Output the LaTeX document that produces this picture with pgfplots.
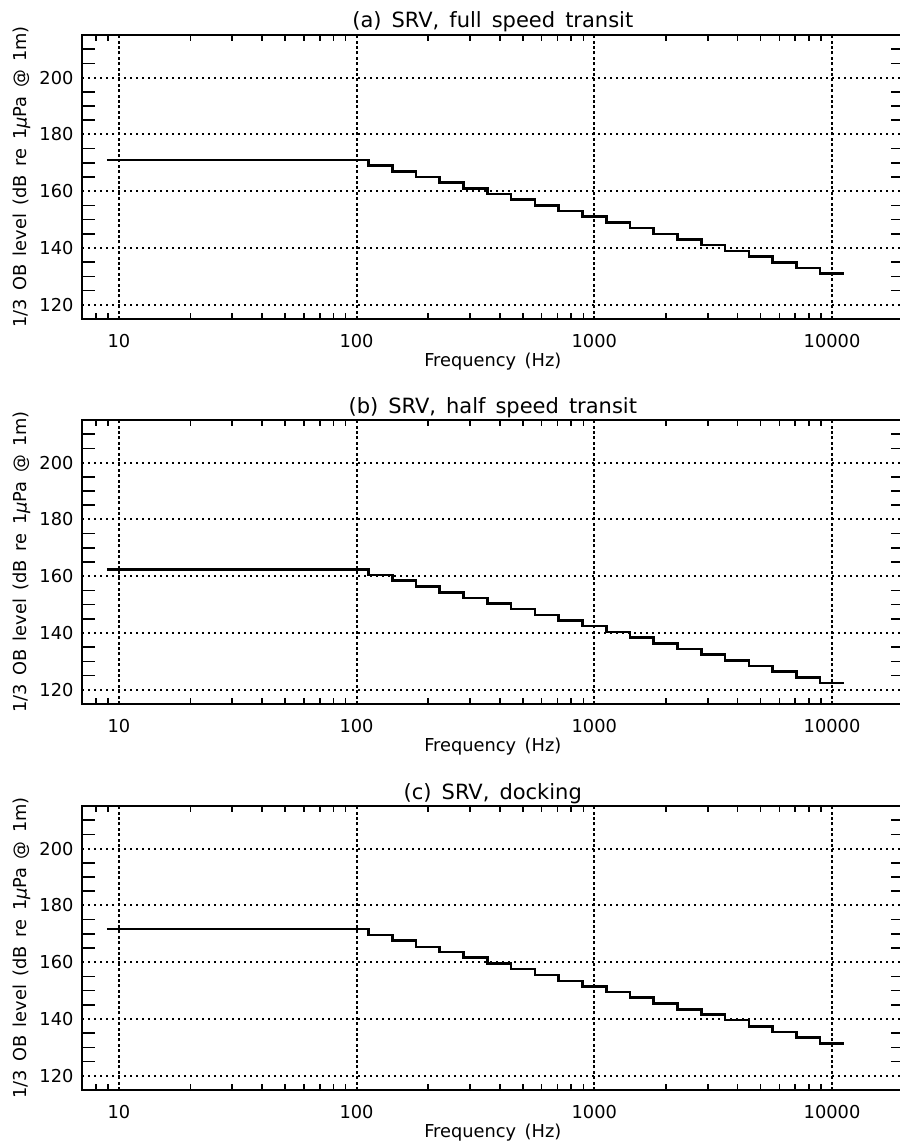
\documentclass[border=0pt]{standalone}
\usepackage{fontspec}
\setmainfont{DejaVu Sans}[WordSpace=1.5]
\usepackage{pgfplots}
\pgfplotsset{compat=1.18}

% common look of the three panels
\pgfplotsset{
  scale only axis, width=410.8pt, height=142pt,
  xmin=7, xmax=20000, ymin=115, ymax=215,
  xtick={10,100,1000,10000}, xticklabels={10,100,1000,10000},
  minor xtick={7,8,9,20,30,40,50,60,70,80,90,200,300,400,500,600,700,800,900,
               2000,3000,4000,5000,6000,7000,8000,9000},
  ytick={120,140,160,180,200},
  minor ytick={125,130,135,145,150,155,165,170,175,185,190,195,205,210},
  grid=major,
  x grid style={black, line width=1pt, dash pattern=on 1.5pt off 1.2pt},
  y grid style={black, line width=1pt, dash pattern=on 1pt off 2pt},
  major tick length=0pt,
  minor tick length=6.5pt,
  minor x tick style={/pgfplots/minor tick length=3pt},
  tick align=inside,
  tick style={black, line width=0.8pt},
  axis line style={line width=1pt},
  ticklabel style={font=\fontsize{8.9}{10}\selectfont},
  /pgf/number format/assume math mode=true,
  xticklabel style={yshift=-4pt},
  yticklabel style={xshift=-0.75pt},
  label style={font=\fontsize{8.9}{10}\selectfont},
  xlabel style={at={(axis description cs:0.5,0)}, anchor=base, yshift=-23.9pt},
  ylabel style={at={(axis description cs:0,0.5)}, anchor=center, yshift=30.2pt},
  title style={at={(axis description cs:0.5,1)}, anchor=base, yshift=-2.5pt,
               font=\fontsize{10.5}{12}\selectfont},
}

\begin{document}
\begin{tikzpicture}
  % (a) full speed transit
  \begin{semilogxaxis}[at={(0,0)}, anchor=north west,
      title={(a) SRV, full speed transit},
      xlabel={Frequency (Hz)}, ylabel={1/3 OB level (dB re 1{\itshape μ}Pa @ 1m)}]
    \addplot[const plot mark left, black, line width=1.3pt, mark=none] coordinates {
      (8.91,171) (112.2,169) (141.3,167) (177.8,165) (223.9,163) (281.8,161)
      (354.8,159) (446.7,157) (562.3,155) (707.9,153) (891.3,151) (1122,149)
      (1413,147) (1778,145) (2239,143) (2818,141) (3548,139) (4467,137)
      (5623,135) (7079,133) (8913,131) (11220,131)
    };
  \end{semilogxaxis}
  % (b) half speed transit
  \begin{semilogxaxis}[at={(0,-192.5pt)}, anchor=north west,
      title={(b) SRV, half speed transit},
      xlabel={Frequency (Hz)}, ylabel={1/3 OB level (dB re 1{\itshape μ}Pa @ 1m)}]
    \addplot[const plot mark left, black, line width=1.3pt, mark=none] coordinates {
      (8.91,162.4) (112.2,160.4) (141.3,158.4) (177.8,156.3) (223.9,154.3) (281.8,152.3)
      (354.8,150.3) (446.7,148.4) (562.3,146.4) (707.9,144.3) (891.3,142.4) (1122,140.3)
      (1413,138.4) (1778,136.3) (2239,134.3) (2818,132.4) (3548,130.4) (4467,128.4)
      (5623,126.4) (7079,124.4) (8913,122.4) (11220,122.4)
    };
  \end{semilogxaxis}
  % (c) docking
  \begin{semilogxaxis}[at={(0,-385.5pt)}, anchor=north west,
      title={(c) SRV, docking},
      xlabel={Frequency (Hz)}, ylabel={1/3 OB level (dB re 1{\itshape μ}Pa @ 1m)}]
    \addplot[const plot mark left, black, line width=1.3pt, mark=none] coordinates {
      (8.91,171.7) (112.2,169.6) (141.3,167.6) (177.8,165.4) (223.9,163.6) (281.8,161.6)
      (354.8,159.5) (446.7,157.6) (562.3,155.5) (707.9,153.4) (891.3,151.5) (1122,149.5)
      (1413,147.5) (1778,145.4) (2239,143.4) (2818,141.6) (3548,139.6) (4467,137.4)
      (5623,135.4) (7079,133.4) (8913,131.4) (11220,131.4)
    };
  \end{semilogxaxis}
  \pgfresetboundingbox
  \path[use as bounding box] (-41pt,17.5pt) rectangle (408.5pt,-555pt);
\end{tikzpicture}
\end{document}
